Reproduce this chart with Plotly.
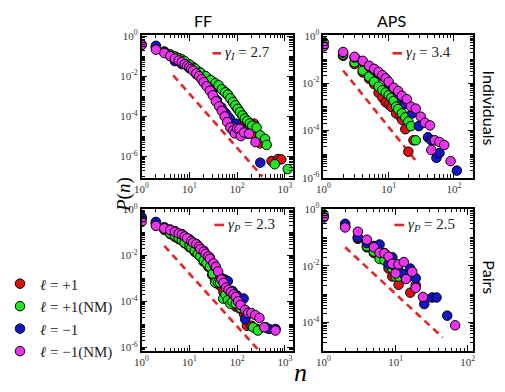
import math
import plotly.graph_objects as go

# ---------------- data (n, log10 P(n)) ----------------
# FF - Individuals
ff_ind_red_n = [1, 2, 3, 4, 5, 6, 7, 8, 10, 12, 14, 17, 21, 25, 30, 36, 43, 50, 58, 65, 75, 85, 97, 110, 125, 141, 160, 178, 200, 225, 243, 280, 305, 527, 720, 840]
ff_ind_red_lp = [-0.44, -0.55, -0.78, -0.92, -1.03, -1.1, -1.18, -1.27, -1.42, -1.55, -1.68, -1.82, -1.98, -2.12, -2.25, -2.4, -2.55, -2.68, -2.82, -2.94, -3.15, -3.35, -3.55, -3.72, -3.9, -4.22, -4.25, -4.3, -4.4, -4.36, -5.02, -5.2, -5.34, -6.22, -6.12, -6.14]
ff_ind_green_n = [1, 2, 3, 4, 5, 6, 7, 8, 10, 13, 17, 22, 28, 35, 41, 48, 56, 64, 72, 82, 92, 103, 115, 130, 145, 164, 185, 208, 256, 306, 386, 416, 613, 1150]
ff_ind_green_lp = [-0.44, -0.55, -0.78, -0.92, -1.02, -1.1, -1.17, -1.25, -1.42, -1.62, -1.83, -2.0, -2.2, -2.35, -2.45, -2.65, -2.8, -2.92, -3.1, -3.28, -3.45, -3.62, -3.78, -3.95, -4.1, -4.22, -4.35, -4.46, -4.55, -4.94, -5.12, -5.42, -6.38, -6.62]
ff_ind_blue_n = [1, 2, 3, 4, 5, 7, 10, 14, 20, 25, 30, 38, 47, 55, 60, 70, 89, 95, 130, 160, 306]
ff_ind_blue_lp = [-0.44, -0.49, -0.8, -1.0, -1.25, -1.4, -1.6, -1.9, -2.3, -2.55, -2.78, -3.2, -3.55, -3.8, -3.9, -4.1, -4.38, -4.36, -4.7, -4.85, -6.3]
ff_ind_mag_n = [1, 2, 3, 4, 5, 6, 7, 8, 9, 10, 11, 12, 14, 16, 18, 20, 23, 27, 31, 36, 42, 48, 55, 62, 72, 82, 89, 100, 112, 120, 140, 178, 243]
ff_ind_mag_lp = [-0.44, -0.68, -0.85, -1.0, -1.12, -1.22, -1.3, -1.4, -1.48, -1.56, -1.64, -1.72, -1.86, -2.0, -2.15, -2.3, -2.5, -2.72, -2.95, -3.25, -3.5, -3.72, -4.0, -4.28, -4.55, -4.7, -4.84, -4.6, -4.62, -4.98, -4.8, -4.86, -5.28]
ff_ind_fit_n = [4.6, 340]
ff_ind_fit_lp = [-1.96, -7.0]

# APS - Individuals
aps_ind_red_n = [1, 2, 3, 4, 5, 6, 7, 8, 9, 10, 11, 13, 15, 16, 18, 20, 24]
aps_ind_red_lp = [-0.3, -0.85, -1.2, -1.55, -1.82, -2.05, -2.41, -2.61, -2.81, -2.9, -3.01, -3.28, -3.4, -3.55, -3.95, -4.9, -4.42]
aps_ind_green_n = [1, 2, 3, 4, 5, 6, 7, 8, 9, 10, 11, 12, 13, 14, 16, 18, 20, 22, 26]
aps_ind_green_lp = [-0.26, -0.8, -1.13, -1.47, -1.73, -1.94, -2.15, -2.3, -2.4, -2.5, -2.62, -2.75, -3.0, -3.1, -3.28, -3.45, -3.62, -3.82, -4.42]
aps_ind_blue_n = [1, 2, 3, 4, 5, 6, 7, 8, 10, 12, 14, 16, 18, 23, 29, 40, 45, 54, 60, 111]
aps_ind_blue_lp = [-0.45, -0.72, -0.92, -1.1, -1.3, -1.45, -1.6, -1.72, -2.02, -2.25, -2.45, -2.7, -2.88, -3.28, -3.82, -4.29, -4.42, -5.16, -4.96, -5.7]
aps_ind_mag_n = [1, 2, 3, 4, 5, 6, 7, 8, 9, 10, 12, 14, 16, 19, 22, 26, 31, 36, 43, 45, 51, 60, 71, 89]
aps_ind_mag_lp = [-0.45, -0.69, -0.89, -1.06, -1.27, -1.4, -1.53, -1.67, -1.8, -1.95, -2.2, -2.34, -2.54, -2.68, -3.0, -3.08, -3.42, -3.68, -3.79, -4.83, -4.42, -4.49, -4.62, -5.3]
aps_ind_fit_n = [2, 26]
aps_ind_fit_lp = [-1.47, -5.28]

# FF - Pairs
ff_pair_red_n = [1, 2, 3, 4, 5, 6, 8, 10, 13, 16, 20, 25, 30, 35, 40, 46, 52, 60, 70, 80, 94, 110, 140, 161, 200, 260]
ff_pair_red_lp = [-0.4, -0.62, -0.9, -1.08, -1.2, -1.3, -1.48, -1.65, -1.85, -2.0, -2.28, -2.5, -2.85, -3.1, -3.25, -3.35, -3.6, -3.8, -3.9, -4.05, -4.23, -4.3, -4.55, -5.06, -5.06, -5.2]
ff_pair_green_n = [1, 2, 3, 4, 5, 6, 7, 8, 10, 11, 13, 15, 17, 20, 23, 27, 31, 35, 40, 44, 51, 57, 64, 72, 80, 94, 120, 160, 217, 272]
ff_pair_green_lp = [-0.34, -0.6, -0.85, -1.05, -1.15, -1.24, -1.35, -1.45, -1.58, -1.66, -1.8, -1.94, -2.05, -2.22, -2.35, -2.49, -2.8, -3.19, -3.19, -3.19, -3.88, -3.7, -3.95, -4.1, -4.02, -4.1, -4.3, -4.6, -5.13, -5.27]
ff_pair_blue_n = [1, 2, 3, 4, 5, 7, 10, 14, 20, 27, 35, 45, 55, 64, 80, 100, 137, 148, 400, 465, 640]
ff_pair_blue_lp = [-0.35, -0.55, -0.78, -0.88, -0.95, -1.08, -1.3, -1.5, -1.8, -2.1, -2.5, -2.95, -3.05, -3.12, -3.55, -3.75, -3.88, -4.78, -5.13, -5.2, -5.2]
ff_pair_mag_n = [1, 2, 3, 4, 5, 6, 7, 8, 9, 11, 12, 14, 16, 17, 20, 22, 25, 27, 32, 36, 40, 47, 52, 59, 66, 74, 84, 94, 105, 118, 148, 170, 200, 240, 294, 370, 635]
ff_pair_mag_lp = [-0.55, -0.72, -0.83, -0.9, -0.98, -1.05, -1.1, -1.18, -1.26, -1.38, -1.45, -1.52, -1.63, -1.73, -1.84, -1.94, -2.05, -2.15, -2.35, -2.5, -2.7, -3.05, -3.2, -3.4, -3.5, -3.6, -3.7, -3.81, -4.0, -4.16, -4.37, -4.5, -4.51, -4.6, -4.72, -5.13, -5.27]
ff_pair_fit_n = [3, 290]
ff_pair_fit_lp = [-1.59, -6.15]

# APS - Pairs
aps_pair_red_n = [1, 2, 3, 4, 5, 6, 7, 8, 9, 11, 16, 19]
aps_pair_red_lp = [-0.25, -0.62, -1.05, -1.35, -1.55, -1.65, -1.8, -2.1, -2.38, -2.67, -2.95, -2.68]
aps_pair_green_n = [1, 2, 3, 4, 5, 6, 7, 8, 9, 10, 11]
aps_pair_green_lp = [-0.18, -0.6, -1.0, -1.31, -1.5, -1.76, -1.8, -2.0, -2.1, -2.38, -2.38]
aps_pair_blue_n = [1, 2, 3, 4, 5, 6, 7, 8, 9, 10, 11, 13, 16, 19, 25, 32, 37, 52]
aps_pair_blue_lp = [-0.3, -0.52, -1.0, -1.2, -1.3, -1.25, -1.55, -1.93, -1.7, -2.05, -2.16, -2.3, -2.1, -2.44, -3.35, -3.12, -3.12, -3.76]
aps_pair_mag_n = [1, 2, 3, 4, 5, 6, 7, 8, 9, 10, 11, 13, 14, 17, 19, 24, 67]
aps_pair_mag_lp = [-0.29, -0.65, -0.8, -1.08, -1.35, -1.54, -1.56, -1.68, -1.93, -2.27, -1.95, -1.87, -2.47, -2.21, -2.78, -3.1, -4.1]
aps_pair_fit_n = [2, 45]
aps_pair_fit_lp = [-1.35, -4.53]

series_names = ["<i>ℓ</i> = +1", "<i>ℓ</i> = +1(NM)", "<i>ℓ</i> = −1", "<i>ℓ</i> = −1(NM)"]
series_colors = ["#dd1111", "#22e622", "#1414c8", "#ee33ee"]
fit_labels = ["<i>γ</i><sub><i>I</i></sub> = 2.7", "<i>γ</i><sub><i>I</i></sub> = 3.4",
              "<i>γ</i><sub><i>P</i></sub> = 2.3", "<i>γ</i><sub><i>P</i></sub> = 2.5"]
col_titles = ["FF", "APS"]
row_titles = ["Individuals", "Pairs"]

panels = [
    ([(ff_ind_red_n, ff_ind_red_lp), (ff_ind_green_n, ff_ind_green_lp), (ff_ind_blue_n, ff_ind_blue_lp), (ff_ind_mag_n, ff_ind_mag_lp)], (ff_ind_fit_n, ff_ind_fit_lp)),
    ([(aps_ind_red_n, aps_ind_red_lp), (aps_ind_green_n, aps_ind_green_lp), (aps_ind_blue_n, aps_ind_blue_lp), (aps_ind_mag_n, aps_ind_mag_lp)], (aps_ind_fit_n, aps_ind_fit_lp)),
    ([(ff_pair_red_n, ff_pair_red_lp), (ff_pair_green_n, ff_pair_green_lp), (ff_pair_blue_n, ff_pair_blue_lp), (ff_pair_mag_n, ff_pair_mag_lp)], (ff_pair_fit_n, ff_pair_fit_lp)),
    ([(aps_pair_red_n, aps_pair_red_lp), (aps_pair_green_n, aps_pair_green_lp), (aps_pair_blue_n, aps_pair_blue_lp), (aps_pair_mag_n, aps_pair_mag_lp)], (aps_pair_fit_n, aps_pair_fit_lp)),
]

# ---------------- layout geometry (pixels) ----------------
W, H = 505, 392
def fx(px): return px / W
def fy(py): return 1 - py / H

xdom_px = [(125.5, 284), (316.5, 474), (125.5, 284), (316.5, 474)]
ydom_px = [(28, 176), (28, 176), (208.5, 355.5), (208.5, 355.5)]
xranges = [[0, 3.16], [0, 2.30], [0, 3.16], [0, 2.08]]
yranges = [[-7.05, 0.05], [-6.0, 0.03], [-6.15, 0.01], [-5.0, 0.0]]

SERIF = "Liberation Serif"
SANS = "Lato"

fig = go.Figure()

for i, (series, fit) in enumerate(panels):
    xa = "x" if i == 0 else f"x{i+1}"
    ya = "y" if i == 0 else f"y{i+1}"
    fig.add_trace(go.Scatter(
        x=fit[0], y=[10 ** v for v in fit[1]], mode="lines",
        line=dict(color="#e42525", width=2.6, dash="7px,5px"),
        showlegend=False, xaxis=xa, yaxis=ya, hoverinfo="skip"))
    for k, (ns, lps) in enumerate(series):
        fig.add_trace(go.Scatter(
            x=ns, y=[10 ** v for v in lps], mode="markers",
            marker=dict(size=9.5, color=series_colors[k], line=dict(color="black", width=1)),
            name=series_names[k], legendgroup=f"g{k}", showlegend=(i == 0),
            xaxis=xa, yaxis=ya))

def decade_ticks(lo, hi, step):
    d0, d1 = math.ceil(lo - 1e-9), math.floor(hi + 1e-9)
    vals, texts, minors = [], [], []
    for d in range(d0, d1 + 1):
        if d % step == 0:
            vals.append(10.0 ** d)
            texts.append(f"10<sup>{d}</sup>")
        else:
            minors.append(10.0 ** d)
    for d in range(d0 - 1, d1 + 1):
        for m in range(2, 10):
            v = m * 10.0 ** d
            if lo <= math.log10(v) <= hi:
                minors.append(v)
    return vals, texts, minors

axis_common = dict(type="log", showgrid=False, zeroline=False, showline=True,
                   linecolor="black", linewidth=1.6, mirror="allticks",
                   ticks="inside", ticklen=6, tickwidth=1.2, tickcolor="black",
                   tickfont=dict(family=SERIF, size=11, color="#333"))

for i in range(4):
    sx = "" if i == 0 else str(i + 1)
    xv, xt, xm = decade_ticks(xranges[i][0], xranges[i][1], 1)
    yv, yt, ym = decade_ticks(yranges[i][0], yranges[i][1], 2)
    fig.layout[f"xaxis{sx}"] = dict(
        axis_common, domain=[fx(xdom_px[i][0]), fx(xdom_px[i][1])], range=xranges[i],
        anchor=f"y{sx}", tickmode="array", tickvals=xv, ticktext=xt,
        minor=dict(tickmode="array", tickvals=xm, ticks="inside", ticklen=3.5, tickwidth=1, tickcolor="black"))
    fig.layout[f"yaxis{sx}"] = dict(
        axis_common, domain=[fy(ydom_px[i][1]), fy(ydom_px[i][0])], range=yranges[i],
        anchor=f"x{sx}", tickmode="array", tickvals=yv, ticktext=yt,
        minor=dict(tickmode="array", tickvals=ym, ticks="inside", ticklen=3.5, tickwidth=1, tickcolor="black"))

annotations = []
shapes = []

def note(px, py, text, size, family, angle=0, xanchor="center", color="black"):
    annotations.append(dict(x=fx(px), y=fy(py), xref="paper", yref="paper", xanchor=xanchor, yanchor="middle",
                            text=text, textangle=angle, showarrow=False,
                            font=dict(family=family, size=size, color=color)))

fit_pos = [(200, 209, 47), (389, 399, 47), (202, 212, 225), (391, 401, 225)]
for i, (x0, x1, yy) in enumerate(fit_pos):
    shapes.append(dict(type="line", xref="paper", yref="paper", x0=fx(x0), x1=fx(x1), y0=fy(yy), y1=fy(yy),
                       line=dict(color="#e42525", width=2.6)))
    note(x1 + 2, yy, fit_labels[i], 15, SERIF, xanchor="left", color="#222")

note(190, 13, col_titles[0], 16, SANS)
note(388, 13, col_titles[1], 16, SANS)
note(491, 104, row_titles[0], 16, SANS, angle=90)
note(491, 279, row_titles[1], 16, SANS, angle=90)
note(107, 193, "<i>P</i>(<i>n</i>)", 19, SERIF, angle=-90)
note(292, 378, "<i>n</i>", 26, SERIF)

fig.update_layout(
    width=W, height=H, margin=dict(l=0, r=0, t=0, b=0),
    paper_bgcolor="white", plot_bgcolor="white",
    annotations=annotations, shapes=shapes,
    legend=dict(x=-0.046, y=fy(269), xanchor="left", yanchor="top", bgcolor="rgba(0,0,0,0)",
                font=dict(family=SERIF, size=15, color="#222"), itemwidth=30, tracegroupgap=0),
)

fig.write_html("out.html")
